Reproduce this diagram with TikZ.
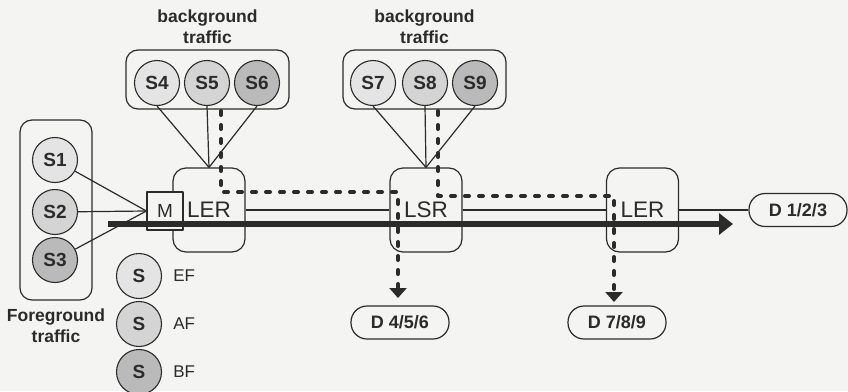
\documentclass[tikz,border=0pt]{standalone}
\usepackage{fontspec}
\setmainfont{Liberation Sans}
\usetikzlibrary{arrows.meta,positioning}
\definecolor{paper}{HTML}{F4F4F2}
\definecolor{ink}{HTML}{2B2B2B}
\definecolor{ef-grey}{HTML}{E4E4E4}
\definecolor{af-grey}{HTML}{D4D4D4}
\definecolor{bf-grey}{HTML}{BABABA}

\begin{document}
\begin{tikzpicture}[x=1pt, y=-1pt, line join=round,
    src/.style={circle, draw=ink, line width=1.1pt, minimum size=45pt, inner sep=0pt,
      text=ink, font=\fontsize{19}{21}\selectfont\bfseries},
    group/.style={draw=ink, line width=1.2pt, rounded corners=12pt},
    router/.style={draw=ink, line width=1.2pt, rounded corners=13pt, fill=paper,
      minimum width=72pt, minimum height=84pt, text=ink, font=\fontsize{22.5}{24}\selectfont},
    dest/.style={draw=ink, line width=1.2pt, rounded corners=16pt, fill=paper,
      minimum width=98pt, minimum height=33pt, text=ink, font=\fontsize{18}{20}\selectfont\bfseries},
    grouplabel/.style={align=center, inner sep=0pt, text=ink,
      font=\fontsize{17.5}{21}\selectfont\bfseries},
    link/.style={draw=ink, line width=1.2pt},
    trunk/.style={draw=ink, line width=5.5pt, -{Triangle[width=21pt,length=14pt]}},
    flow/.style={draw=ink, line width=4pt, line cap=round, dash pattern=on 4pt off 10pt,
      -{Triangle[width=17pt,length=10pt]}}]
    \fill[paper] (0,0) rectangle (848,391);
    \useasboundingbox (0,0) rectangle (848,391);

    \node[group, minimum width=163pt, minimum height=59pt] (bg1) at (207.5,79.5) {};
    \node[group, minimum width=163pt, minimum height=59pt] (bg2) at (424.5,79.5) {};
    \node[group, minimum width=72pt, minimum height=180pt] (fg) at (56,210) {};
    \node[grouplabel, above=6pt of bg1] (bg1label) {background\\traffic};
    \node[grouplabel, above=6pt of bg2] (bg2label) {background\\traffic};
    \node[grouplabel, below=8pt of fg] (fglabel) {Foreground\\traffic};

    \foreach \i/\x/\c in {4/157/ef-grey,5/207/af-grey,6/257/bf-grey,7/373/ef-grey,8/425/af-grey,9/475/bf-grey} {
      \node[src, fill=\c] (S\i) at (\x,83) {S\i};
    }
    \foreach \i/\y/\c in {1/160/ef-grey,2/212/af-grey,3/260/bf-grey} {
      \node[src, fill=\c] (S\i) at (55,\y) {S\i};
    }
    \foreach \y/\c/\q in {276/ef-grey/EF,324/af-grey/AF,372/bf-grey/BF} {
      \node[src, fill=\c] (key\q) at (139,\y) {S};
      \node[right=11pt of key\q, inner sep=0pt, text=ink, font=\fontsize{17}{19}\selectfont] (lab\q) {\q};
    }

    \node[router] (LER1) at (209,210) {LER};
    \node[router] (LSR) at (426,210) {LSR};
    \node[router] (LER2) at (642.5,210) {LER};
    \node[dest] (D123) at (798,210) {D 1/2/3};
    \node[dest] (D456) at (400,322.5) {D 4/5/6};
    \node[dest] (D789) at (617,322.5) {D 7/8/9};
    \node[draw=ink, line width=1.2pt, fill=paper, minimum width=36pt, minimum height=38pt,
      text=ink, font=\fontsize{19}{21}\selectfont] (M) at (165,211) {M};

    \foreach \i in {4,5,6} {
      \draw[link] (S\i.south) -- (LER1.north);
    }
    \foreach \i in {7,8,9} {
      \draw[link] (S\i.south) -- (LSR.north);
    }
    \foreach \i in {1,2,3} {
      \draw[link] (S\i) -- (M.west);
    }
    \draw[link, line width=1.5pt] (LER1) -- (LSR) -- (LER2) -- (D123);

    \coordinate (fgin) at (108,224);
    \coordinate (fgout) at (733,224);
    \draw[trunk] (fgin) -- (fgout);

    \coordinate (flowA) at (221,111);
    \coordinate (turnA) at (398,192);
    \coordinate (tipA) at (398,298);
    \coordinate (flowB) at (438,111);
    \coordinate (turnB) at (614,196);
    \coordinate (tipB) at (614,302);
    \draw[flow] (flowA) |- (turnA) -- (tipA);
    \draw[flow] (flowB) |- (turnB) -- (tipB);
  \end{tikzpicture}
\end{document}
